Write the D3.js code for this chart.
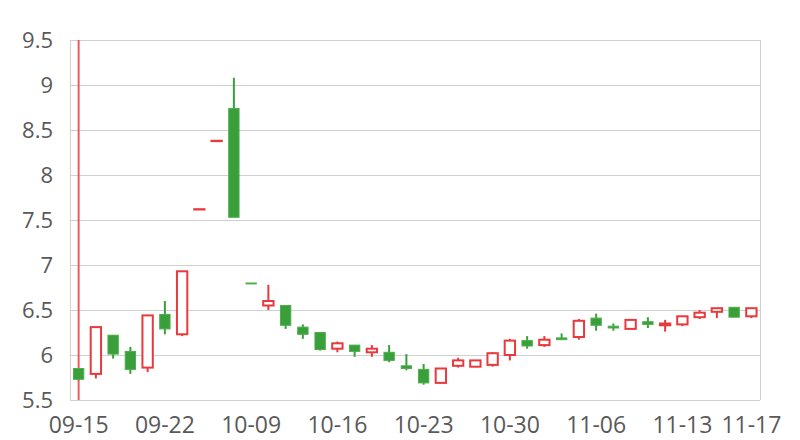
<!DOCTYPE html>
<html>
<head>
<meta charset="utf-8">
<script src="https://cdn.jsdelivr.net/npm/d3@7"></script>
<style>
html,body{margin:0;padding:0;background:#fff;}
svg{display:block;}
</style>
</head>
<body>
<svg id="chart" width="800" height="440"></svg>
<script>
const dates = ["09-15","09-16","09-17","09-18","09-21","09-22","09-23","09-24","09-25","09-28",
  "10-09","10-12","10-13","10-14","10-15","10-16","10-19","10-20","10-21","10-22",
  "10-23","10-26","10-27","10-28","10-29","10-30","11-02","11-03","11-04","11-05",
  "11-06","11-09","11-10","11-11","11-12","11-13","11-14","11-15","11-16","11-17"];
const openVals  = [5.85,5.79,6.22,6.04,5.86,6.45,6.23,7.62,8.38,8.74,
  6.80,6.55,6.55,6.31,6.25,6.07,6.11,6.03,6.03,5.88,
  5.84,5.69,5.88,5.87,5.89,6.00,6.16,6.11,6.19,6.20,
  6.41,6.32,6.29,6.37,6.33,6.34,6.42,6.48,6.53,6.43];
const closeVals = [5.73,6.31,6.01,5.84,6.44,6.29,6.93,7.62,8.38,7.53,
  6.79,6.60,6.33,6.23,6.06,6.13,6.04,6.07,5.94,5.85,
  5.69,5.85,5.94,5.94,6.02,6.16,6.10,6.17,6.17,6.38,
  6.33,6.30,6.39,6.34,6.35,6.43,6.47,6.52,6.42,6.52];
const highVals  = [5.85,6.31,6.22,6.09,6.44,6.60,6.93,7.62,8.38,9.08,
  6.80,6.78,6.55,6.34,6.25,6.15,6.11,6.11,6.11,6.01,
  5.90,5.85,5.97,5.94,6.03,6.18,6.21,6.21,6.24,6.40,
  6.46,6.35,6.40,6.42,6.39,6.43,6.50,6.52,6.53,6.52];
const lowVals   = [5.72,5.74,5.96,5.79,5.81,6.23,6.21,7.62,8.38,7.53,
  6.79,6.50,6.29,6.18,6.05,6.03,5.98,5.98,5.92,5.83,
  5.67,5.69,5.86,5.87,5.87,5.94,6.07,6.09,6.17,6.17,
  6.27,6.27,6.29,6.30,6.26,6.32,6.40,6.41,6.42,6.41];
const tickLabels = ["09-15","09-22","10-09","10-16","10-23","10-30","11-06","11-13","11-17"];
const yTicks = [5.5,6,6.5,7,7.5,8,8.5,9,9.5];
const refLineDates = ["09-15"];

const UP = "#e8393d", DOWN = "#3a9f3a";
const svg = d3.select("#chart");
const pLeft = 70, pRight = 760, pTop = 40, pBottom = 400;

const x = d3.scaleBand().domain(dates).range([pLeft, pRight]);
const y = d3.scaleLinear().domain([5.5, 9.5]).range([pBottom, pTop]);

// gridlines
svg.append("g").selectAll("line").data(yTicks).join("line")
  .attr("x1", pLeft).attr("x2", pRight)
  .attr("y1", d => Math.round(y(d)) + 0.5).attr("y2", d => Math.round(y(d)) + 0.5)
  .attr("stroke", "#d0d0d0").attr("stroke-width", 1);
// left/right frame
svg.append("line").attr("x1", pLeft + 0.5).attr("x2", pLeft + 0.5).attr("y1", pTop).attr("y2", pBottom)
  .attr("stroke", "#d0d0d0");
svg.append("line").attr("x1", pRight + 0.5).attr("x2", pRight + 0.5).attr("y1", pTop).attr("y2", pBottom)
  .attr("stroke", "#d0d0d0");

// y axis labels
const yAxis = d3.axisLeft(y).tickValues(yTicks).tickSize(0).tickPadding(0).tickFormat(d => String(d));
const ya = svg.append("g").attr("transform", `translate(${pLeft - 17},0)`).call(yAxis);
ya.select(".domain").remove();
ya.selectAll("text").attr("font-family", "'Open Sans', sans-serif").attr("font-size", 22)
  .attr("fill", "#595959");

// x axis labels
const xAxis = d3.axisBottom(x).tickValues(tickLabels).tickSize(0).tickPadding(0);
const xa = svg.append("g").attr("transform", `translate(0,${pBottom + 17})`).call(xAxis);
xa.select(".domain").remove();
xa.selectAll("text").attr("font-family", "'Open Sans', sans-serif").attr("font-size", 23)
  .attr("fill", "#595959");

// reference vertical line
svg.append("g").selectAll("line").data(refLineDates).join("line")
  .attr("x1", d => x(d) + x.bandwidth() / 2).attr("x2", d => x(d) + x.bandwidth() / 2)
  .attr("y1", pTop).attr("y2", pBottom)
  .attr("stroke", "#ee5a5e").attr("stroke-width", 2);

const data = dates.map((d, i) => ({date: d, o: openVals[i], c: closeVals[i], h: highVals[i], l: lowVals[i]}));
const bw = x.bandwidth() * 0.6;
const g = svg.append("g");
const cand = g.selectAll("g.c").data(data).join("g").attr("class", "c");
cand.append("line")
  .attr("x1", d => x(d.date) + x.bandwidth() / 2).attr("x2", d => x(d.date) + x.bandwidth() / 2)
  .attr("y1", d => y(d.h)).attr("y2", d => y(d.l))
  .attr("stroke", d => d.c >= d.o ? UP : DOWN).attr("stroke-width", 2);
cand.append("rect")
  .attr("x", d => x(d.date) + x.bandwidth() / 2 - bw / 2)
  .attr("width", bw)
  .attr("y", d => y(Math.max(d.o, d.c)))
  .attr("height", d => Math.max(Math.abs(y(d.o) - y(d.c)), 0.3))
  .attr("fill", d => d.c >= d.o ? "#ffffff" : DOWN)
  .attr("stroke", d => d.c >= d.o ? UP : "#4caf4c")
  .attr("stroke-width", d => d.c >= d.o ? 2 : 1);
</script>
</body>
</html>
